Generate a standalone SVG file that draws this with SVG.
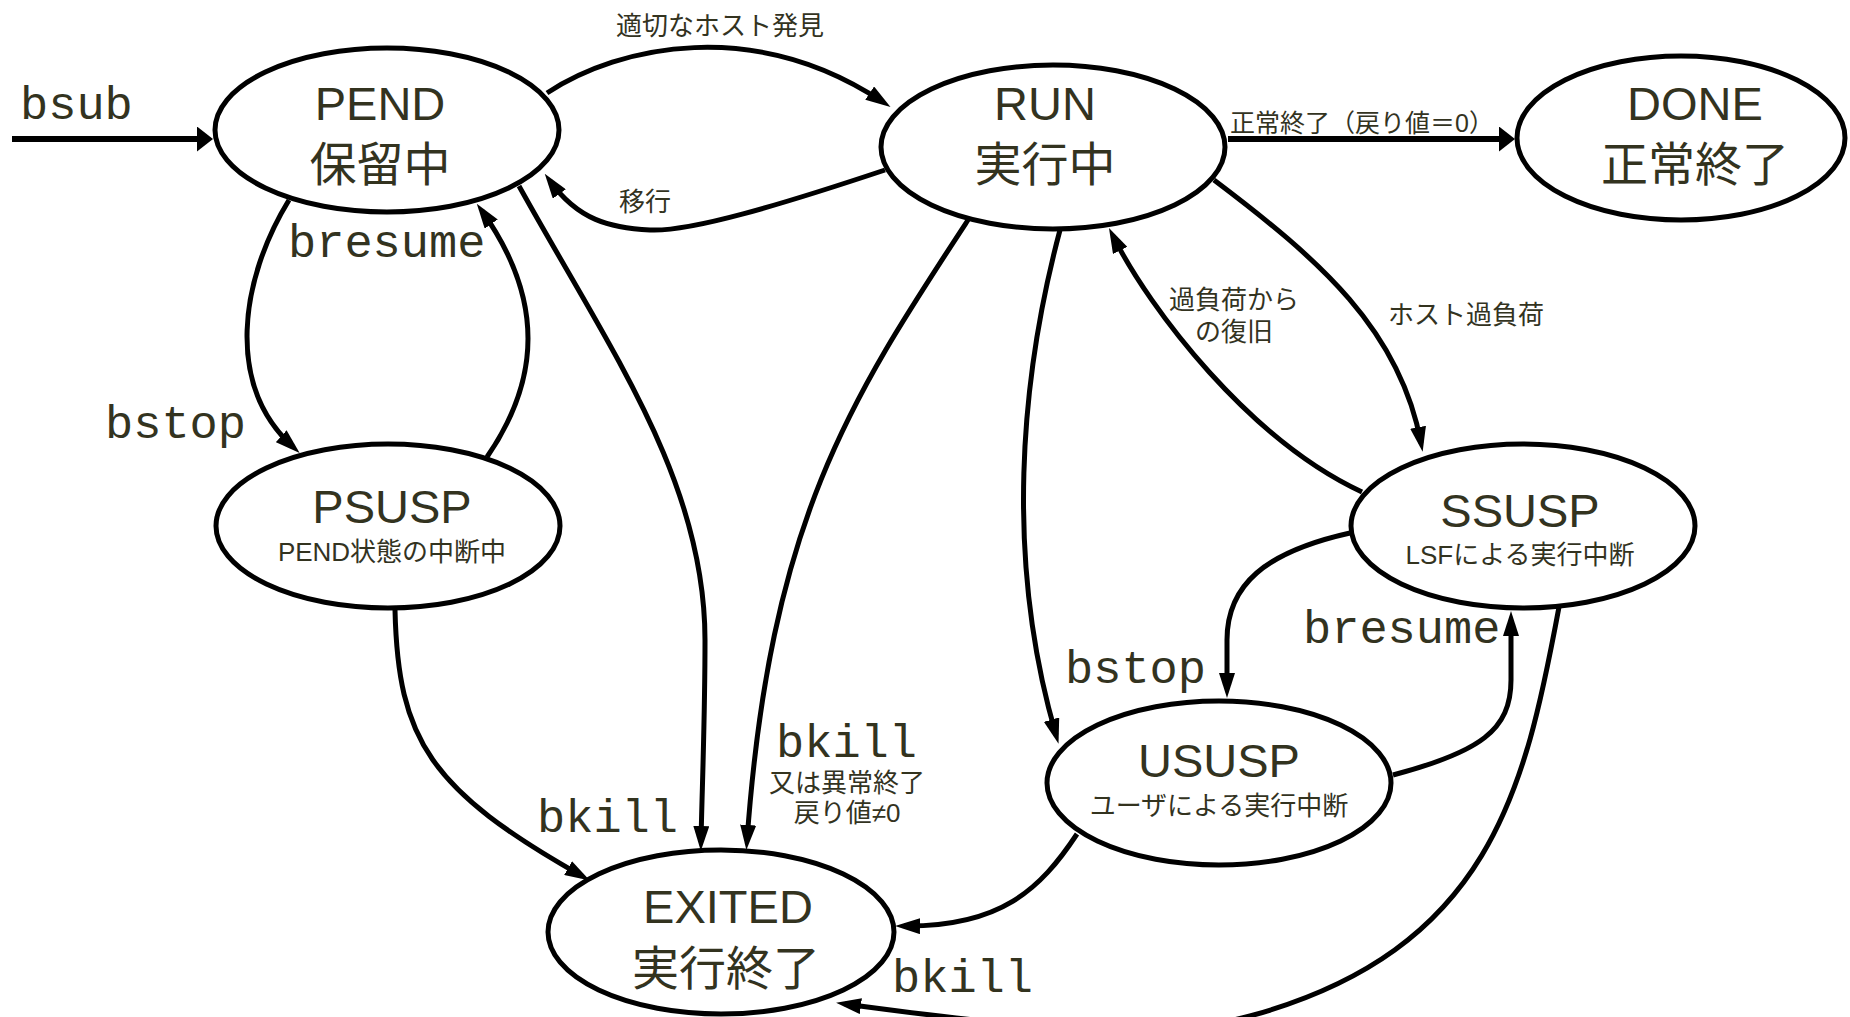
<svg xmlns="http://www.w3.org/2000/svg" width="1850" height="1017" viewBox="0 0 1850 1017">
<defs>
<style>
.st{fill:#fff;stroke:#000;stroke-width:5}
.t1{font-family:"Liberation Sans","Noto Sans CJK JP",sans-serif;font-size:47px;fill:#33331f;text-anchor:middle}
.t2{font-family:"Liberation Sans","Noto Sans CJK JP",sans-serif;font-size:26px;fill:#33331f;text-anchor:middle}
.lb{font-family:"Liberation Sans","Noto Sans CJK JP",sans-serif;font-size:26px;fill:#33331f;text-anchor:middle}
.mono{font-family:"Liberation Mono","Courier New",monospace;font-size:47px;fill:#33331f}
.e{fill:none;stroke:#000;stroke-width:5;marker-end:url(#a)}
.ek{fill:none;stroke:#000;stroke-width:6;marker-end:url(#b)}
</style>
<marker id="a" markerUnits="userSpaceOnUse" viewBox="0 0 25 16" markerWidth="25" markerHeight="16" refX="16" refY="8" orient="auto"><path d="M0,0 L25,8 L0,16 z" fill="#000"/></marker>
<marker id="b" markerUnits="userSpaceOnUse" viewBox="0 0 16 25" markerWidth="16" markerHeight="25" refX="8" refY="12.5" orient="auto"><path d="M0,0 L16,12.5 L0,25 z" fill="#000"/></marker>
</defs>
<rect width="1850" height="1017" fill="#fff"/>
<g id="connectors">
<path class="ek" d="M12 139 L205 139"/>
<path class="e" d="M547 93 C620 45,755 17,883 102"/>
<path class="e" d="M885 170 C780 205,690 232,650 230 C610 228,578 220,550 181"/>
<path class="ek" d="M1228 139 L1507 139"/>
<path class="e" d="M289 200 C240 280,225 385,293 447"/>
<path class="e" d="M487 457 C540 380,545 300,482 211"/>
<path class="e" d="M519 186 C610 350,705 480,705 640 C705 720,702 790,701 842"/>
<path class="e" d="M395 610 C398 740,430 790,582 876"/>
<path class="e" d="M968 220 C850 400,770 520,747 841"/>
<path class="e" d="M1060 230 C1020 380,1005 560,1056 735"/>
<path class="e" d="M1362 492 C1250 440,1150 310,1113 236"/>
<path class="e" d="M1214 180 C1320 260,1400 330,1421 443"/>
<path class="e" d="M1350 533 C1265 552,1227 585,1227 640 L1227 689"/>
<path class="e" d="M1393 775 C1480 752,1511 730,1511 680 L1511 620"/>
<path class="e" d="M1077 834 C1040 890,1000 927,904 926"/>
<path class="e" d="M1559 607 C1525 790,1490 950,1250 1016 C1150 1043,1000 1025,845 1004"/>
</g>
<g id="labels">
<text class="mono" x="20" y="119">bsub</text>
<text class="lb" x="720" y="35">適切なホスト発見</text>
<text class="lb" x="645" y="211">移行</text>
<text class="lb" x="1230" y="132" style="text-anchor:start;font-size:25px">正常終了（戻り値＝0）</text>
<text class="mono" x="288" y="257">bresume</text>
<text class="mono" x="105" y="438">bstop</text>
<text class="lb" x="1234" y="309">過負荷から</text>
<text class="lb" x="1234" y="341">の復旧</text>
<text class="lb" x="1466" y="324">ホスト過負荷</text>
<text class="mono" x="1303" y="643">bresume</text>
<text class="mono" x="1065" y="683">bstop</text>
<text class="mono" x="776" y="757">bkill</text>
<text class="lb" x="847" y="792">又は異常終了</text>
<text class="lb" x="847" y="822">戻り値≠0</text>
<text class="mono" x="537" y="832">bkill</text>
<text class="mono" x="892" y="992">bkill</text>
</g>
<g id="PEND"><ellipse class="st" cx="387" cy="130" rx="172" ry="82"/><text class="t1" x="380" y="120">PEND</text><text class="t1" x="380" y="181">保留中</text></g>
<g id="RUN"><ellipse class="st" cx="1053" cy="147" rx="172" ry="82"/><text class="t1" x="1045" y="120">RUN</text><text class="t1" x="1045" y="181">実行中</text></g>
<g id="DONE"><ellipse class="st" cx="1681" cy="138" rx="164" ry="82"/><text class="t1" x="1695" y="120">DONE</text><text class="t1" x="1695" y="181">正常終了</text></g>
<g id="PSUSP"><ellipse class="st" cx="388" cy="526" rx="172" ry="82"/><text class="t1" x="392" y="523">PSUSP</text><text class="t2" x="392" y="561">PEND状態の中断中</text></g>
<g id="SSUSP"><ellipse class="st" cx="1523" cy="526" rx="172" ry="82"/><text class="t1" x="1520" y="527">SSUSP</text><text class="t2" x="1520" y="564">LSFによる実行中断</text></g>
<g id="USUSP"><ellipse class="st" cx="1219" cy="783" rx="172" ry="82"/><text class="t1" x="1219" y="777">USUSP</text><text class="t2" x="1219" y="815">ユーザによる実行中断</text></g>
<g id="EXITED"><ellipse class="st" cx="721" cy="932" rx="173" ry="82"/><text class="t1" x="728" y="923">EXITED</text><text class="t1" x="726" y="985">実行終了</text></g>
</svg>
